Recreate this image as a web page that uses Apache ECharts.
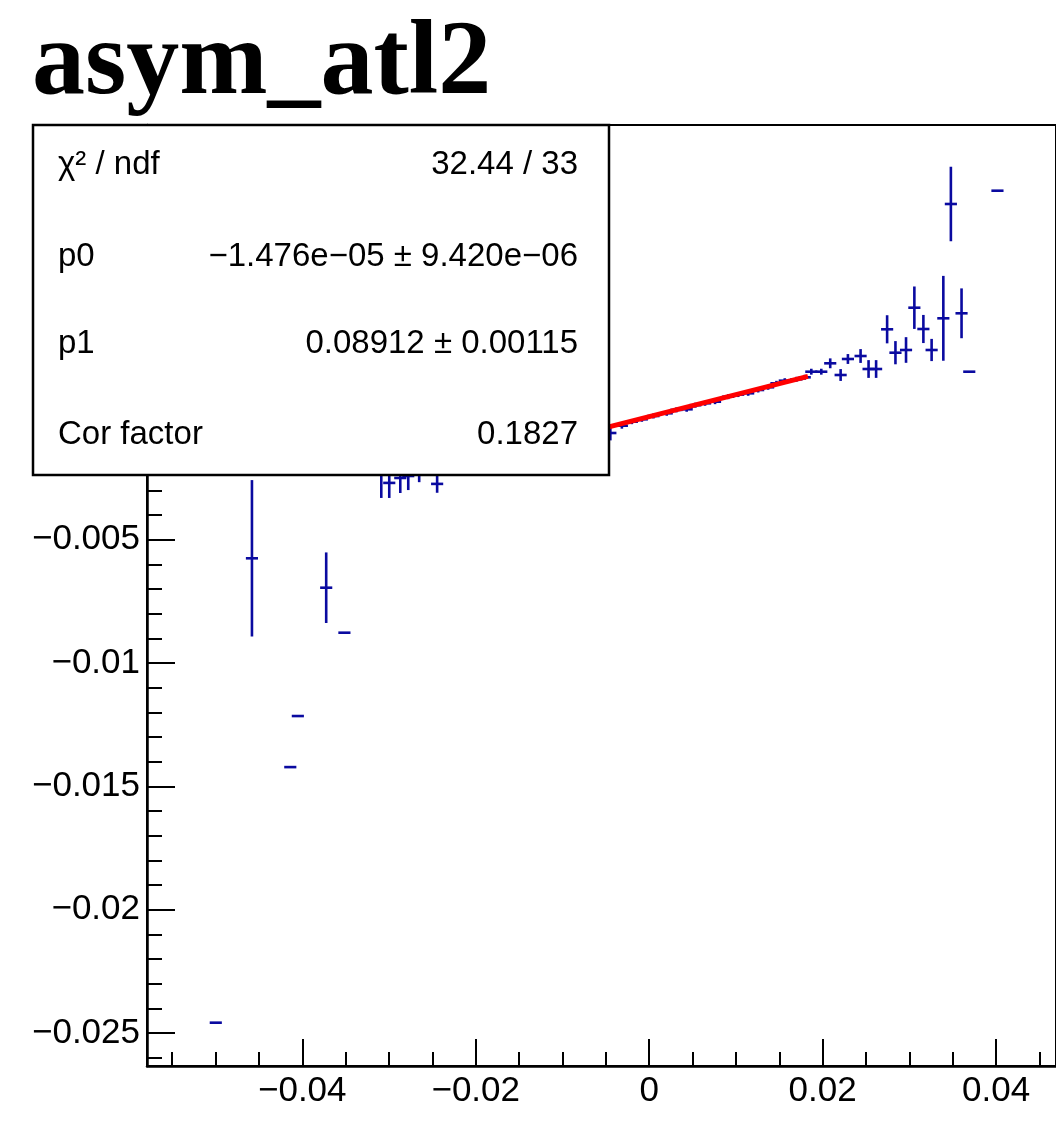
<!DOCTYPE html>
<html>
<head>
<meta charset="utf-8">
<script src="https://cdn.jsdelivr.net/npm/echarts@6/dist/echarts.min.js"></script>
<style>
html,body{margin:0;padding:0;background:#fff;}
#chart{width:1056px;height:1126px;}
</style>
</head>
<body>
<div id="chart"></div>
<script>
// ---- data ----
const titleText = 'asym_atl2';

// bin centres (x), mean values (y), vertical errors (ey)
const xVals = [
  -0.04997, -0.0458, -0.04138, -0.04051, -0.03724, -0.03514,
  -0.03089, -0.02997, -0.0287, -0.02778, -0.02652, -0.02445,
  -0.00448, -0.00315, -0.0020, -0.00085, 0.00049, 0.00202, 0.00314, 0.00432,
  0.00532, 0.00644, 0.00759, 0.00911, 0.01026, 0.01141, 0.01256, 0.01371,
  0.01467, 0.01563, 0.01697, 0.01793,
  0.01869, 0.01984, 0.02087, 0.02207, 0.02291, 0.02437, 0.02529, 0.02616,
  0.02743, 0.02839, 0.02961, 0.03057, 0.03161, 0.03256, 0.03391, 0.03478,
  0.03601, 0.0369, 0.04015
];
const yVals = [
  -0.02458, -0.005756, -0.01422, -0.01215, -0.006948, -0.008772,
  -0.00234, -0.0027, -0.0025, -0.00242, -0.00222, -0.00274,
  -0.000677, -0.000381, -0.000219, -0.000122, 0.000012, 0.000122, 0.00026, 0.000284,
  0.00045, 0.000527, 0.000592, 0.000795, 0.00088, 0.000932, 0.001066, 0.001176,
  0.001338, 0.001443, 0.0015, 0.001581,
  0.001808, 0.001808, 0.002148, 0.001674, 0.002323, 0.002444, 0.001917, 0.001917,
  0.003527, 0.002578, 0.002688, 0.004402, 0.003539, 0.002688, 0.003972, 0.008606,
  0.004175, 0.001808, 0.009145
];
const yErrs = [
  0, 0.00317, 0, 0, 0.00143, 0,
  0.00097, 0.00061, 0.00061, 0.00057, 0.00045, 0.00036,
  0.0003, 0.00012, 0.0001, 0.0001, 0.0001, 0.0001, 0.0001, 0.0001,
  0.0001, 0.0001, 0.0001, 0.0001, 0.0001, 0.0001, 0.0001, 0.0001,
  0.0001, 0.0001, 0.0001, 0.0001,
  0.00012, 0.00012, 0.0002, 0.00024, 0.0002, 0.00028, 0.00036, 0.00036,
  0.00057, 0.00047, 0.00052, 0.00086, 0.00057, 0.00045, 0.00172, 0.00151,
  0.00101, 0, 0
];
const binHalfWidth = 0.0007;

// linear fit pol1: p0 + p1*x
const fitP0 = -1.476e-05;
const fitP1 = 0.08912;
const fitRange = [-0.025, 0.0183];

// stats box rows
const statLabels = ['\u03C7\u00B2 / ndf', 'p0', 'p1', 'Cor factor'];
const statValues = ['32.44 / 33', '\u22121.476e\u221205 \u00B1 9.420e\u221206', '0.08912 \u00B1 0.00115', '0.1827'];

// axes
const xRange = [-0.0579, 0.0469];
const yRange = [-0.026336, 0.011808];
const xMajorTicks = [-0.04, -0.02, 0, 0.02, 0.04];
const xMinorTicks = [-0.055, -0.05, -0.045, -0.035, -0.03, -0.025, -0.015, -0.01, -0.005,
                     0.005, 0.01, 0.015, 0.025, 0.03, 0.035, 0.045];
const yMajorTicks = [-0.025, -0.02, -0.015, -0.01, -0.005, 0, 0.005, 0.01];
const yMinorTicks = [-0.026, -0.024, -0.023, -0.022, -0.021, -0.019, -0.018, -0.017, -0.016,
                     -0.014, -0.013, -0.012, -0.011, -0.009, -0.008, -0.007, -0.006,
                     -0.004, -0.003, -0.002, -0.001, 0.001, 0.002, 0.003, 0.004,
                     0.006, 0.007, 0.008, 0.009, 0.011];

// ---- chart ----
const pointData = xVals.map((x, i) => [x, yVals[i], yErrs[i]]);
const fitData = fitRange.map(x => [x, fitP0 + fitP1 * x]);

function fmt(v) {
  if (v === 0) return '0';
  return (v < 0 ? '\u2212' : '') + String(+Math.abs(v).toFixed(6));
}

const GRID = {left: 147, top: 125, width: 912, height: 941};
const LABEL_FONT = '"Liberation Sans", Arial, sans-serif';
const BLUE = '#0a0aa0';

const chart = echarts.init(document.getElementById('chart'), null, {renderer: 'canvas'});

const graphics = [
  {
    type: 'text', z: 200,
    style: {
      text: titleText, x: 32, y: 66,
      font: 'bold 106px "Liberation Serif", "Times New Roman", serif',
      fill: '#000', textAlign: 'left', textVerticalAlign: 'middle'
    }
  },
  {
    type: 'rect', z: 200,
    shape: {x: 33, y: 125, width: 576, height: 350},
    style: {fill: '#fff', stroke: '#000', lineWidth: 2.5}
  }
];
const rowY = [165, 257, 344, 435];
statLabels.forEach((t, i) => {
  graphics.push({
    type: 'text', z: 201,
    style: {text: t, x: 58, y: rowY[i], font: '33px ' + LABEL_FONT, fill: '#000',
            textAlign: 'left', textVerticalAlign: 'middle'}
  });
  graphics.push({
    type: 'text', z: 201,
    style: {text: statValues[i], x: 578, y: rowY[i], font: '33px ' + LABEL_FONT, fill: '#000',
            textAlign: 'right', textVerticalAlign: 'middle'}
  });
});

const option = {
  animation: false,
  backgroundColor: '#fff',
  grid: [
    Object.assign({show: true, borderColor: '#000', borderWidth: 2, backgroundColor: 'transparent', containLabel: false}, GRID),
    Object.assign({show: false, containLabel: false}, GRID)
  ],
  xAxis: [
    {
      type: 'value', gridIndex: 0, min: xRange[0], max: xRange[1],
      position: 'bottom',
      splitLine: {show: false},
      axisLine: {show: true, onZero: false, lineStyle: {color: '#000', width: 2.5}},
      axisTick: {show: true, inside: true, length: 27, customValues: xMajorTicks,
                 lineStyle: {color: '#000', width: 2}},
      axisLabel: {show: true, customValues: xMajorTicks, formatter: fmt, margin: 8,
                  color: '#000', fontSize: 35, fontFamily: LABEL_FONT}
    },
    {
      type: 'value', gridIndex: 1, min: xRange[0], max: xRange[1],
      position: 'bottom',
      splitLine: {show: false},
      axisLine: {show: false, onZero: false},
      axisTick: {show: true, inside: true, length: 14, customValues: xMinorTicks,
                 lineStyle: {color: '#000', width: 2}},
      axisLabel: {show: false}
    }
  ],
  yAxis: [
    {
      type: 'value', gridIndex: 0, min: yRange[0], max: yRange[1],
      position: 'left',
      splitLine: {show: false},
      axisLine: {show: true, onZero: false, lineStyle: {color: '#000', width: 2.5}},
      axisTick: {show: true, inside: true, length: 28, customValues: yMajorTicks,
                 lineStyle: {color: '#000', width: 2}},
      axisLabel: {show: true, customValues: yMajorTicks, formatter: fmt, margin: 7,
                  color: '#000', fontSize: 35, fontFamily: LABEL_FONT}
    },
    {
      type: 'value', gridIndex: 1, min: yRange[0], max: yRange[1],
      position: 'left',
      splitLine: {show: false},
      axisLine: {show: false, onZero: false},
      axisTick: {show: true, inside: true, length: 15, customValues: yMinorTicks,
                 lineStyle: {color: '#000', width: 2}},
      axisLabel: {show: false}
    }
  ],
  series: [
    {
      type: 'custom',
      xAxisIndex: 0, yAxisIndex: 0,
      data: pointData,
      z: 5,
      renderItem: function (params, api) {
        const x = api.value(0), y = api.value(1), e = api.value(2);
        const children = [];
        const pL = api.coord([x - binHalfWidth, y]);
        const pR = api.coord([x + binHalfWidth, y]);
        children.push({type: 'line', shape: {x1: pL[0], y1: pL[1], x2: pR[0], y2: pR[1]},
                       style: {stroke: BLUE, lineWidth: 2.6}});
        if (e > 0) {
          const pT = api.coord([x, y + e]);
          const pB = api.coord([x, y - e]);
          children.push({type: 'line', shape: {x1: pT[0], y1: pT[1], x2: pB[0], y2: pB[1]},
                         style: {stroke: BLUE, lineWidth: 2.6}});
        }
        return {type: 'group', children: children};
      }
    },
    {
      type: 'line',
      xAxisIndex: 0, yAxisIndex: 0,
      data: fitData,
      z: 10,
      symbol: 'none',
      lineStyle: {color: '#ff0000', width: 5},
      silent: true
    }
  ],
  graphic: graphics
};
chart.setOption(option);
</script>
</body>
</html>
